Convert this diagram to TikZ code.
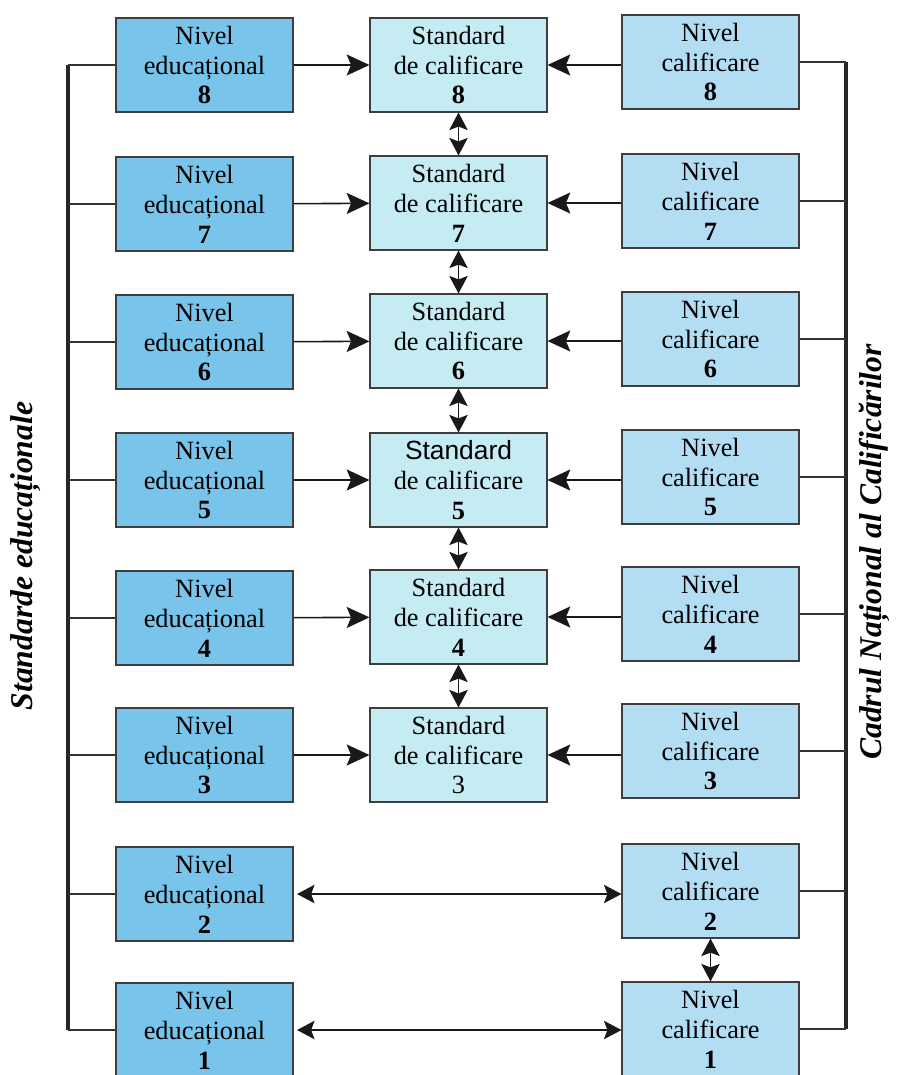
\documentclass[tikz,border=0pt]{standalone}
\usepackage{fontspec}
\setmainfont{Liberation Serif}
\newfontfamily\arialfont{Liberation Sans}
\usetikzlibrary{arrows.meta}
\definecolor{edublue}{RGB}{120,196,234}
\definecolor{stdcyan}{RGB}{197,235,243}
\definecolor{calblue}{RGB}{178,221,243}
\definecolor{edgegray}{RGB}{62,62,62}
\begin{document}
\begin{tikzpicture}[x=0.02cm, y=-0.02cm,
  every node/.style={font=\fontsize{15}{17}\selectfont, align=center, inner sep=0pt},
  lvl/.style={draw=edgegray, line width=0.6pt, minimum width=3.54cm, minimum height=1.88cm},
  edu/.style={lvl, fill=edublue},
  std/.style={lvl, fill=stdcyan},
  cal/.style={lvl, fill=calblue},
  bus/.style={line width=2.2pt, black!85},
  tap/.style={line width=0.8pt, black!80},
  arr/.style={line width=0.9pt, black!90, -{Stealth[length=13pt,width=12pt,inset=2.5pt]}},
  darr/.style={line width=0.9pt, black!90, {Stealth[length=10pt,width=10.5pt,inset=2pt]}-{Stealth[length=10pt,width=10.5pt,inset=2pt]}}]
  \useasboundingbox (0,0) rectangle (896,1075);
  \clip (0,0) rectangle (896,1075);
  % nivel educational
  \node [edu] (e8) at (204.5,65) {Nivel\\educațional\\\textbf{8}};
  \node [edu] (e7) at (204.5,204) {Nivel\\educațional\\\textbf{7}};
  \node [edu] (e6) at (204.5,342) {Nivel\\educațional\\\textbf{6}};
  \node [edu] (e5) at (204.5,480) {Nivel\\educațional\\\textbf{5}};
  \node [edu] (e4) at (204.5,618) {Nivel\\educațional\\\textbf{4}};
  \node [edu] (e3) at (204.5,755) {Nivel\\educațional\\\textbf{3}};
  \node [edu] (e2) at (204.5,894) {Nivel\\educațional\\\textbf{2}};
  \node [edu] (e1) at (204.5,1030) {Nivel\\educațional\\\textbf{1}};
  % standard de calificare
  \node [std] (s8) at (458.5,65) {Standard\\de calificare\\\textbf{8}};
  \node [std] (s7) at (458.5,203) {Standard\\de calificare\\\textbf{7}};
  \node [std] (s6) at (458.5,341) {Standard\\de calificare\\\textbf{6}};
  \node [std] (s5) at (458.5,480) {\arialfont Standard\\de calificare\\\rmfamily\bfseries 5};
  \node [std] (s4) at (458.5,617) {Standard\\de calificare\\\textbf{4}};
  \node [std] (s3) at (458.5,755) {Standard\\de calificare\\3};
  % nivel calificare
  \node [cal] (c8) at (710.5,62) {Nivel\\calificare\\\textbf{8}};
  \node [cal] (c7) at (710.5,201) {Nivel\\calificare\\\textbf{7}};
  \node [cal] (c6) at (710.5,339) {Nivel\\calificare\\\textbf{6}};
  \node [cal] (c5) at (710.5,477) {Nivel\\calificare\\\textbf{5}};
  \node [cal] (c4) at (710.5,614) {Nivel\\calificare\\\textbf{4}};
  \node [cal] (c3) at (710.5,751) {Nivel\\calificare\\\textbf{3}};
  \node [cal] (c2) at (710.5,891) {Nivel\\calificare\\\textbf{2}};
  \node [cal] (c1) at (710.5,1029) {Nivel\\calificare\\\textbf{1}};
  % side titles
  \node [rotate=90, font=\fontsize{18}{20}\selectfont\bfseries\itshape] (st) at (26,556) {Standarde educaționale};
  \node [rotate=90, font=\fontsize{18}{20}\selectfont\bfseries\itshape] (cn) at (874,552) {Cadrul Național al Calificărilor};
  % buses
  \coordinate (lb) at (68,0);
  \coordinate (rb) at (846,0);
  \draw [bus] (e8.west -| lb) -- (e1.west -| lb);
  \draw [bus] (c8.east -| rb) -- (c1.east -| rb);
  \foreach \i in {1,...,8} {
    \draw [tap] (e\i.west) -- (e\i.west -| lb);
    \draw [tap] (c\i.east) -- (c\i.east -| rb);
  }
  % arrows
  \foreach \i in {3,...,8} {
    \draw [arr] (e\i) -- (s\i);
    \draw [arr] (c\i.west |- s\i) -- (s\i.east);
  }
  \draw [darr] (s8) -- (s7);
  \draw [darr] (s7) -- (s6);
  \draw [darr] (s6) -- (s5);
  \draw [darr] (s5) -- (s4);
  \draw [darr] (s4) -- (s3);
  \draw [darr, shorten <=2pt] (e2.east) -- (c2.west |- e2.east);
  \draw [darr, shorten <=2pt] (e1.east) -- (c1.west |- e1.east);
  \draw [darr] (c2) -- (c1);
\end{tikzpicture}
\end{document}
